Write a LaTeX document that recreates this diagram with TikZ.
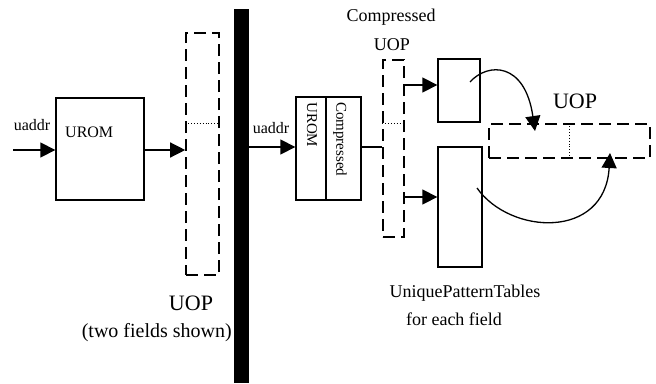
\documentclass[tikz,border=0pt]{standalone}
\usepackage{fontspec}
\setmainfont{Liberation Serif}
\usetikzlibrary{arrows.meta}
\begin{document}
\begin{tikzpicture}[x=1pt,y=-1pt,
  box/.style={draw,line width=1.3pt,inner sep=0pt},
  dbox/.style={draw,line width=1.6pt,dash pattern=on 12pt off 6pt,inner sep=0pt},
  arr/.style={line width=1.3pt,-{Triangle[length=15pt,width=15pt]}},
  plain/.style={line width=1.3pt},
  dot/.style={line width=0.9pt,dotted},
  lbl/.style={inner sep=0pt,anchor=base},
  fs/.style={font=\fontsize{#1}{#1}\selectfont}
]
\useasboundingbox (0,0) rectangle (656,383);
% black divider bar
\fill (234,9) rectangle (249,383);

% ---- left side ----
\node[box,minimum width=88pt,minimum height=102pt] (urom) at (100,149) {};
\node[lbl,fs=16,anchor=base west] (uromlbl) at (65,137) {UROM};
\coordinate (in1) at (13,150);
\node[lbl,fs=16] (uaddr1) at (32,130) {uaddr};
\draw[arr] (in1) -- (in1 -| urom.west);
\node[dbox,minimum width=33pt,minimum height=242pt] (uop1) at (202.5,154) {};
\draw[arr] (urom.east |- in1) -- (uop1.west |- in1);
\draw[dot] (uop1.west |- 0,123) -- (uop1.east |- 0,123);
\node[lbl,fs=22] (uop1lbl) at (191,310) {UOP};
\node[lbl,fs=20,anchor=base east] (two) at (232,337) {(two fields shown)};

% ---- right side ----
\coordinate (in2) at (249,147);
\node[lbl,fs=16] (uaddr2) at (271,133) {uaddr};
\node[box,minimum width=65pt,minimum height=103pt] (curom) at (328.5,148.5) {};
\draw[line width=1.3pt] (curom.north -| 326,0) -- (curom.south -| 326,0);
\node[inner sep=0pt,fs=15,rotate=-90,anchor=west] (curomA) at (312,102) {UROM};
\node[inner sep=0pt,fs=15,rotate=-90,anchor=west] (curomB) at (340,102) {Compressed};
\draw[arr] (in2) -- (in2 -| curom.west);
\node[dbox,minimum width=21pt,minimum height=177pt] (cuop) at (393.5,148.5) {};
\draw[plain] (curom.east |- in2) -- (cuop.west |- in2);
\draw[dot] (cuop.west |- 0,123) -- (cuop.east |- 0,123);
\node[lbl,fs=18] (comp) at (391,21) {Compressed};
\node[lbl,fs=18] (cuoplbl) at (392,50) {UOP};

\node[box,minimum width=42pt,minimum height=63pt] (tab1) at (459,90.5) {};
\node[box,minimum width=44pt,minimum height=120pt] (tab2) at (460,207) {};
\draw[arr] (cuop.east |- 0,85) -- (tab1.west |- 0,85);
\draw[arr] (cuop.east |- 0,197) -- (tab2.west |- 0,197);
\node[lbl,fs=18] (upt) at (465,297) {UniquePatternTables};
\node[lbl,fs=18] (fef) at (454,325) {for each field};

\node[dbox,minimum width=161pt,minimum height=34pt] (uop2) at (569.5,141) {};
\draw[dot] (uop2.north) -- (uop2.south);
\node[lbl,fs=22] (uop2lbl) at (575,108) {UOP};

\coordinate (c1s) at (470,82);
\coordinate (c1e) at (535,131);
\coordinate (c2s) at (477,188);
\coordinate (c2e) at (610,153);
\draw[arr] (c1s) .. controls (488,62) and (525,62) .. (c1e);
\draw[arr] (c2s) .. controls (510,235) and (605,240) .. (c2e);
\end{tikzpicture}
\end{document}
